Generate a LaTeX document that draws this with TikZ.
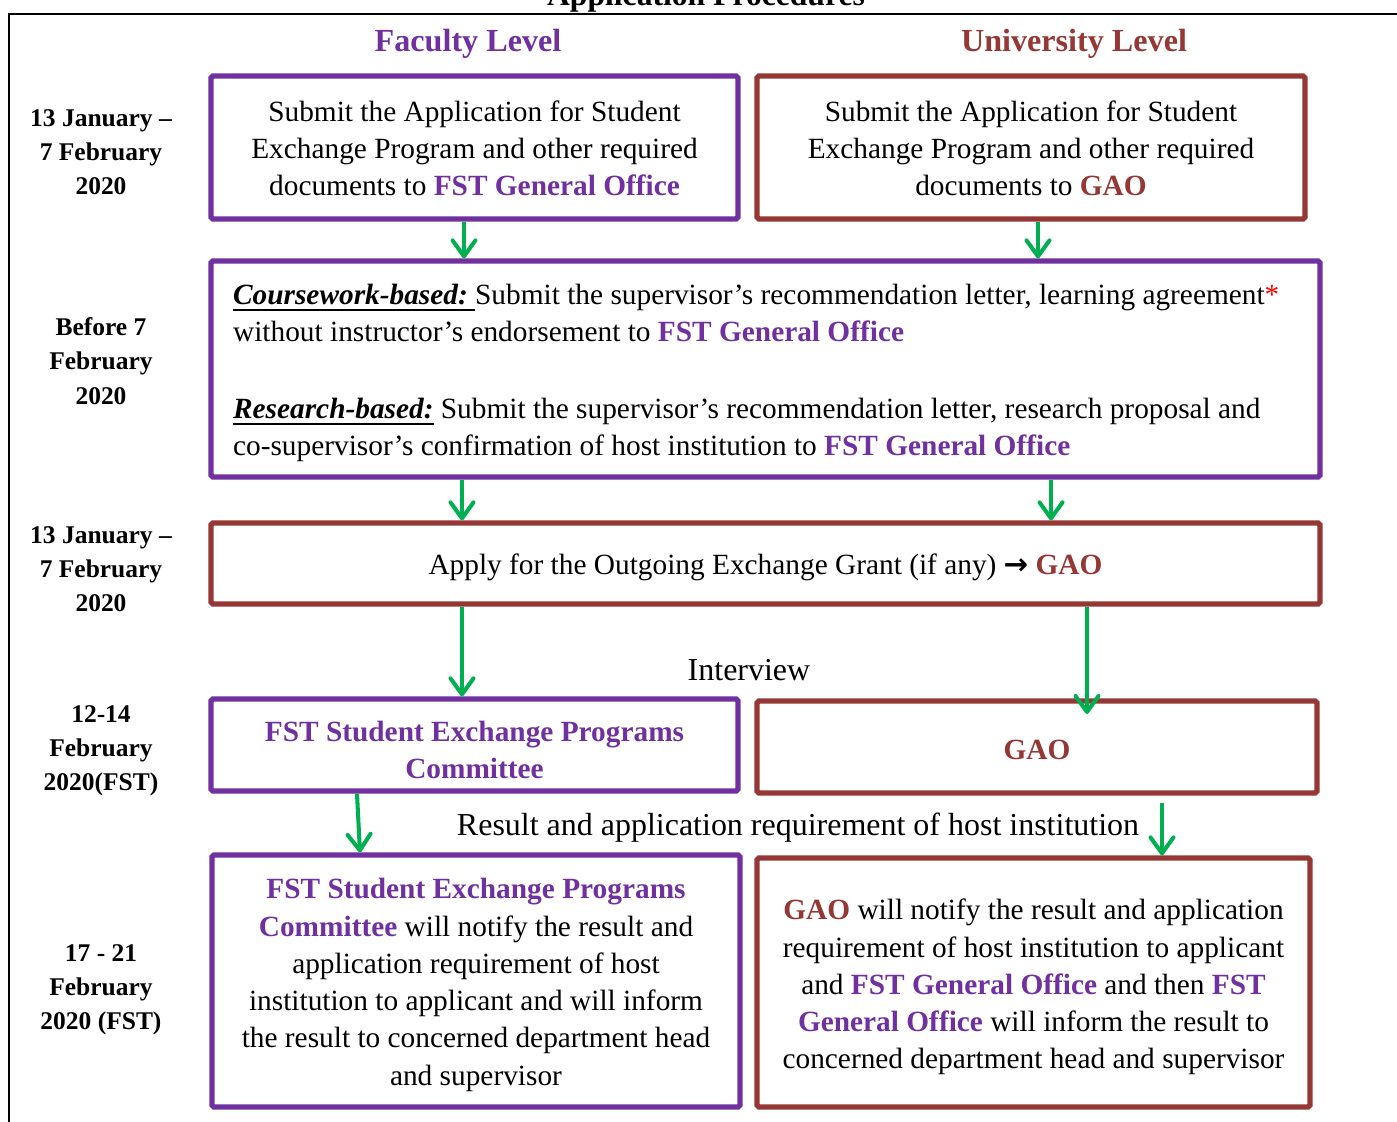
\documentclass[tikz,border=0pt]{standalone}
\usepackage{fontspec}
\setmainfont{Liberation Serif}
\newfontfamily\arrowfont{DejaVu Sans}
\usetikzlibrary{positioning}
\usetikzlibrary{arrows.meta}
\definecolor{facpurple}{RGB}{112,48,160}
\definecolor{unired}{RGB}{149,55,53}
\definecolor{flowgreen}{RGB}{0,176,80}
\tikzset{>={Straight Barb[length=3.2mm,width=4.6mm,round]}}
\tikzset{
    facbox/.style={draw=facpurple, line width=3pt, rounded corners=1pt, align=center, inner sep=0pt, font=\fontsize{16.7}{21.2}\selectfont},
    unibox/.style={facbox, draw=unired},
    flow/.style={draw=flowgreen, line width=2.3pt, ->},
    datelabel/.style={align=center, font=\fontsize{14.5}{19.5}\selectfont\bfseries},
    plainlabel/.style={anchor=base, font=\fontsize{18.2}{22}\selectfont}
}
\newcommand{\fst}[1]{\textcolor{facpurple}{\textbf{#1}}}
\newcommand{\gao}[1]{\textcolor{unired}{\textbf{#1}}}
\newcommand{\topstrut}[1]{\rule{0pt}{#1}}
\newcommand{\barunder}[1]{\leavevmode\setbox0\hbox{#1}\rlap{\rule[-3.6pt]{\wd0}{1.2pt}}\box0\relax}

\begin{document}
\begin{tikzpicture}[x=0.02cm, y=-0.02cm]
    \useasboundingbox (0,0) rectangle (1397,1122);
    \draw [line width=1.5pt] (1420,14) -- (9,14) -- (9,1150);
    \node (title) at (706,6) [anchor=base, font=\fontsize{18}{21}\selectfont\bfseries] {Application Procedures};
    \node (faclevel) at (468,52) [anchor=base, text=facpurple, font=\fontsize{18.3}{22}\selectfont\bfseries] {Faculty Level};
    \node (unilevel) at (1074,52) [anchor=base, text=unired, font=\fontsize{18.3}{22}\selectfont\bfseries] {University Level};

    \node (date1) at (101,152) [datelabel] {13 January --\\7 February\\2020};
    \node (date2) at (101,361) [datelabel] {Before 7\\February\\2020};
    \node (date3) at (101,569) [datelabel] {13 January --\\7 February\\2020};
    \node (date4) at (101,751) [datelabel] {12-14\\February\\2020(FST)};
    \node (date5) at (101,990) [datelabel] {17 - 21\\February\\2020 (FST)};

    \node (a1) at (474.5,147.5) [facbox, minimum width=10.54cm, minimum height=2.86cm] {\topstrut{12.5pt}Submit the Application for Student\\Exchange Program and other required\\documents to \fst{FST General Office}};
    \node (a2) at (1031,147.5) [unibox, minimum width=10.96cm, minimum height=2.86cm] {\topstrut{12.5pt}Submit the Application for Student\\Exchange Program and other required\\documents to \gao{GAO}};
    \node (b) at (765.5,369) [facbox, align=flush left, text width=21.3cm, inner xsep=0.44cm, minimum height=4.32cm] {\topstrut{16pt}\barunder{\textbf{\textit{Coursework-based:}}\ }Submit the supervisor’s recommendation letter, learning agreement\textcolor{red}{*}\\without instructor’s endorsement to \fst{FST General Office}\\[22.5pt]\barunder{\textbf{\textit{Research-based:}}} Submit the supervisor’s recommendation letter, research proposal and\\co-supervisor’s confirmation of host institution to \fst{FST General Office}};
    \node (c) at (765.5,563.5) [unibox, minimum width=22.18cm, minimum height=1.62cm] {\topstrut{16pt}Apply for the Outgoing Exchange Grant (if any) {\arrowfont\bfseries →} \gao{GAO}};
    \node (d1) at (474.5,745) [facbox, minimum width=10.54cm, minimum height=1.84cm, text=facpurple, font=\fontsize{16.7}{21.2}\selectfont\bfseries] {\topstrut{17pt}FST Student Exchange Programs\\Committee};
    \node (d2) at (1037,747) [unibox, minimum width=11.2cm, minimum height=1.84cm] {\topstrut{14.3pt}\gao{GAO}};
    \node (e1) at (476,981) [facbox, minimum width=10.56cm, minimum height=5.04cm] {\topstrut{16pt}\fst{FST Student Exchange Programs}\\\fst{Committee} will notify the result and\\application requirement of host\\institution to applicant and will inform\\the result to concerned department head\\and supervisor};
    \node (e2) at (1033.5,982.5) [unibox, minimum width=11.06cm, minimum height=4.98cm] {\topstrut{17pt}\gao{GAO} will notify the result and application\\requirement of host institution to applicant\\and \fst{FST General Office} and then \fst{FST}\\\fst{General Office} will inform the result to\\concerned department head and supervisor};

    \node (interview) at (749,680) [plainlabel] {Interview};
    \node (result) at (798,835) [plainlabel] {Result and application requirement of host institution};

    \coordinate (colA) at (464,0);
    \coordinate (colB) at (1038,0);
    \coordinate (colC) at (462,0);
    \coordinate (colD) at (1051,0);
    \coordinate (gaoin) at (1087,714);
    \coordinate (resL) at (357,0);
    \coordinate (resLend) at (360,0);
    \coordinate (resR) at (1162,803);

    \path [flow] (a1.south -| colA) -- (b.north -| colA);
    \path [flow] (a2.south -| colB) -- (b.north -| colB);
    \path [flow] (b.south -| colC) -- (c.north -| colC);
    \path [flow] (b.south -| colD) -- (c.north -| colD);
    \path [flow] (c.south -| colC) -- (d1.north -| colC);
    \path [flow] (c.south -| gaoin) -- (gaoin);
    \path [flow] (d1.south -| resL) -- (e1.north -| resLend);
    \path [flow] (resR) -- (e2.north -| resR);
\end{tikzpicture}
\end{document}
